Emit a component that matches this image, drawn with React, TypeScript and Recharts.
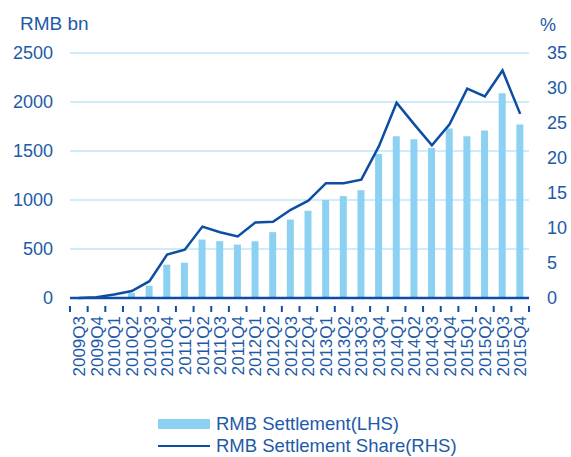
import React from 'react'
import {
  ComposedChart, Bar, Line, XAxis, YAxis, CartesianGrid,
} from 'recharts'

const quarters = [
  '2009Q3', '2009Q4', '2010Q1', '2010Q2', '2010Q3', '2010Q4',
  '2011Q1', '2011Q2', '2011Q3', '2011Q4', '2012Q1', '2012Q2',
  '2012Q3', '2012Q4', '2013Q1', '2013Q2', '2013Q3', '2013Q4',
  '2014Q1', '2014Q2', '2014Q3', '2014Q4', '2015Q1', '2015Q2',
  '2015Q3', '2015Q4',
]
const settlement = [
  0, 0, 5, 50, 125, 340, 360, 596, 580, 545, 580, 672,
  800, 890, 1000, 1040, 1100, 1470, 1650, 1620, 1530, 1730,
  1650, 1710, 2090, 1770,
]
const share = [
  0, 0.1, 0.5, 1.0, 2.4, 6.2, 6.9, 10.2, 9.4, 8.8, 10.8, 10.9,
  12.6, 13.9, 16.4, 16.4, 16.9, 21.7, 27.9, 24.8, 21.8, 24.8,
  29.9, 28.8, 32.5, 26.3,
]
const leftTicks = [0, 500, 1000, 1500, 2000, 2500]
const rightTicks = [0, 5, 10, 15, 20, 25, 30, 35]

const W = 571
const H = 457
const PLOT_L = 70
const PLOT_R = 529
const STEP = (PLOT_R - PLOT_L) / quarters.length
const BLUE = '#0E4DA4'
const TEXT = '#1D5AA8'
const BAR = '#8DD1F2'
const FONT = 'Liberation Sans, Arial, sans-serif'

const data = quarters.map((q, i) => ({ q, settlement: settlement[i], share: share[i] }))

function QuarterTick(props: any) {
  const { x, y, payload, index } = props
  return (
    <g>
      <line x1={x - STEP / 2} x2={x - STEP / 2} y1={y} y2={y + 6} stroke={BLUE} strokeWidth={2} />
      {index === quarters.length - 1 && (
        <line x1={x + STEP / 2} x2={x + STEP / 2} y1={y} y2={y + 6} stroke={BLUE} strokeWidth={2} />
      )}
      <g transform={`translate(${x},${y + 10})`}>
        <text transform="rotate(-90)" textAnchor="end" dy="0.36em" fill={TEXT} fontSize={17} fontFamily={FONT}>
          {payload.value}
        </text>
      </g>
    </g>
  )
}

export default function App() {
  return (
    <div style={{ position: 'absolute', left: 0, top: 0, width: W, height: H, background: '#fff', fontFamily: FONT }}>
      <ComposedChart
        width={W}
        height={H}
        data={data}
        margin={{ top: 53, right: 8, left: 8, bottom: 79 }}
      >
        <CartesianGrid vertical={false} stroke="#BEE6F8" strokeWidth={1.3} yAxisId="left" />
        <XAxis
          dataKey="q"
          interval={0}
          height={80}
          axisLine={{ stroke: BLUE, strokeWidth: 2.5 }}
          tickLine={false}
          tick={<QuarterTick />}
        />
        <YAxis
          yAxisId="left"
          width={62}
          domain={[0, 2500]}
          ticks={leftTicks}
          axisLine={false}
          tickLine={false}
          tickSize={0}
          tickMargin={17}
          tick={{ fill: TEXT, fontSize: 18, fontFamily: FONT }}
        />
        <YAxis
          yAxisId="right"
          orientation="right"
          width={34}
          domain={[0, 35]}
          ticks={rightTicks}
          axisLine={false}
          tickLine={false}
          tickSize={0}
          tickMargin={18}
          tick={{ fill: TEXT, fontSize: 18, fontFamily: FONT }}
        />
        <Bar yAxisId="left" dataKey="settlement" fill={BAR} barSize={7} isAnimationActive={false} />
        <Line
          yAxisId="right"
          dataKey="share"
          stroke={BLUE}
          strokeWidth={2.5}
          dot={false}
          type="linear"
          isAnimationActive={false}
        />
        <text x={20} y={30} fill={TEXT} fontSize={19} fontFamily={FONT}>RMB bn</text>
        <text x={540} y={31} fill={TEXT} fontSize={18} fontFamily={FONT}>%</text>
      </ComposedChart>
      <div style={{ position: 'absolute', left: 158, top: 413, color: TEXT, fontSize: 18.5, lineHeight: '22px' }}>
        <div style={{ display: 'flex', alignItems: 'center', height: 22 }}>
          <span style={{ display: 'inline-block', width: 52, height: 10, background: BAR, marginRight: 6 }} />
          RMB Settlement(LHS)
        </div>
        <div style={{ display: 'flex', alignItems: 'center', height: 22 }}>
          <span style={{ display: 'inline-block', width: 52, height: 2.5, background: BLUE, marginRight: 6 }} />
          RMB Settlement Share(RHS)
        </div>
      </div>
    </div>
  )
}
